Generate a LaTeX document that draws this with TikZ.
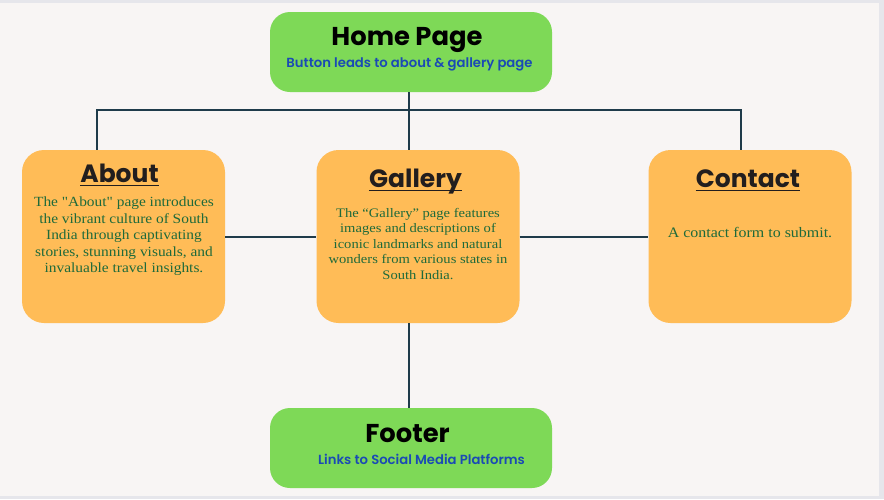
\documentclass[tikz,border=0pt]{standalone}
\usepackage{fontspec}
\setmainfont{Liberation Serif}
\newfontfamily\titlefont{Poppins}[UprightFont=* Bold]
\newfontfamily\subfont{Poppins}[UprightFont=* SemiBold]
\newfontfamily\bodyfont{Liberation Serif}[FakeStretch=1.1]
\newfontfamily\widebodyfont{Liberation Serif}[FakeStretch=1.12]
\usetikzlibrary{positioning}
\definecolor{pagebg}{HTML}{F8F5F4}
\definecolor{edgegray}{HTML}{E6E6EB}
\definecolor{boxgreen}{HTML}{7ED957}
\definecolor{boxorange}{HTML}{FFBC57}
\definecolor{linkcol}{HTML}{1F3B4A}
\definecolor{subblue}{HTML}{1A4AB5}
\definecolor{bodygreen}{HTML}{1E6A3A}
\definecolor{titleblack}{HTML}{221E1E}
\begin{document}
\begin{tikzpicture}[x=1pt,y=-1pt]
\tikzstyle{pagebox}=[rectangle,rounded corners=20pt,fill=boxgreen,minimum width=282pt,minimum height=80pt,inner sep=0pt]
\tikzstyle{infobox}=[rectangle,rounded corners=22pt,fill=boxorange,minimum width=203pt,minimum height=173pt,inner sep=0pt]
\tikzstyle{bigtitle}=[inner sep=0pt,anchor=base,font=\titlefont\fontsize{25.8}{30}\selectfont,text=black]
\tikzstyle{boxtitle}=[inner sep=0pt,anchor=base,font=\titlefont\fontsize{25}{29}\selectfont,text=titleblack]
\tikzstyle{subline}=[inner sep=0pt,anchor=base,font=\subfont\fontsize{13.2}{15}\selectfont,text=subblue]
\tikzstyle{bodytext}=[inner sep=0pt,align=center,text=bodygreen]
\tikzstyle{link}=[draw=linkcol,line width=2pt]

  % background
  \fill[edgegray] (0,0) rectangle (884,499);
  \fill[pagebg] (0,3) rectangle (879,496);
  \useasboundingbox (0,0) rectangle (884,499);

  % boxes
  \node[pagebox] (home) at (411,52) {};
  \node[infobox] (about) at (123.5,236.5) {};
  \node[infobox] (gallery) at (418,236.5) {};
  \node[infobox] (contact) at (750,236.5) {};
  \node[pagebox] (footer) at (411,448) {};

  % texts
  \node[bigtitle] (homeT) at (407,45) {Home Page};
  \node[subline] (homeS) at (409.5,67) {Button leads to about \& gallery page};
  \node[bigtitle] (footerT) at (407.5,442) {Footer};
  \node[subline] (footerS) at (421.5,464) {Links to Social Media Platforms};

  \node[boxtitle] (aboutT) at (119.5,182) {About};
  \node[boxtitle] (galleryT) at (415.5,187) {Gallery};
  \node[boxtitle] (contactT) at (748,187) {Contact};
\foreach \t in {aboutT, galleryT, contactT}
\draw [line width=1.8pt,titleblack] ([yshift=-3.5pt]\t.base west) -- ([yshift=-3.5pt]\t.base east);

  \node[bodytext,font=\bodyfont\fontsize{14}{16.5}\selectfont] (aboutB) at (124,236.5)
    {The "About" page introduces\\the vibrant culture of South\\India through captivating\\stories, stunning visuals, and\\invaluable travel insights.};
  \node[bodytext,font=\widebodyfont\fontsize{13}{15.5}\selectfont] (galleryB) at (418,244)
    {The “Gallery” page features\\images and descriptions of\\iconic landmarks and natural\\wonders from various states in\\South India.};
  \node[bodytext,anchor=base,font=\bodyfont\fontsize{14.5}{17}\selectfont] (contactB) at (750,237)
    {A contact form to submit.};

  % connectors
  \coordinate (busL) at (97,110);
  \coordinate (busC) at (409,110);
  \coordinate (busR) at (741,110);
\draw [link] (home.south -| busC) -- (gallery.north -| busC);
\draw [link] (gallery.south -| busC) -- (footer.north -| busC);
\draw [link] (about.north -| busL) -- (busL) -- (busR) -- (busR |- contact.north);
\foreach \from/\to in {about/gallery, gallery/contact}
\draw [link] (\from) -- (\to);

\end{tikzpicture}
\end{document}
